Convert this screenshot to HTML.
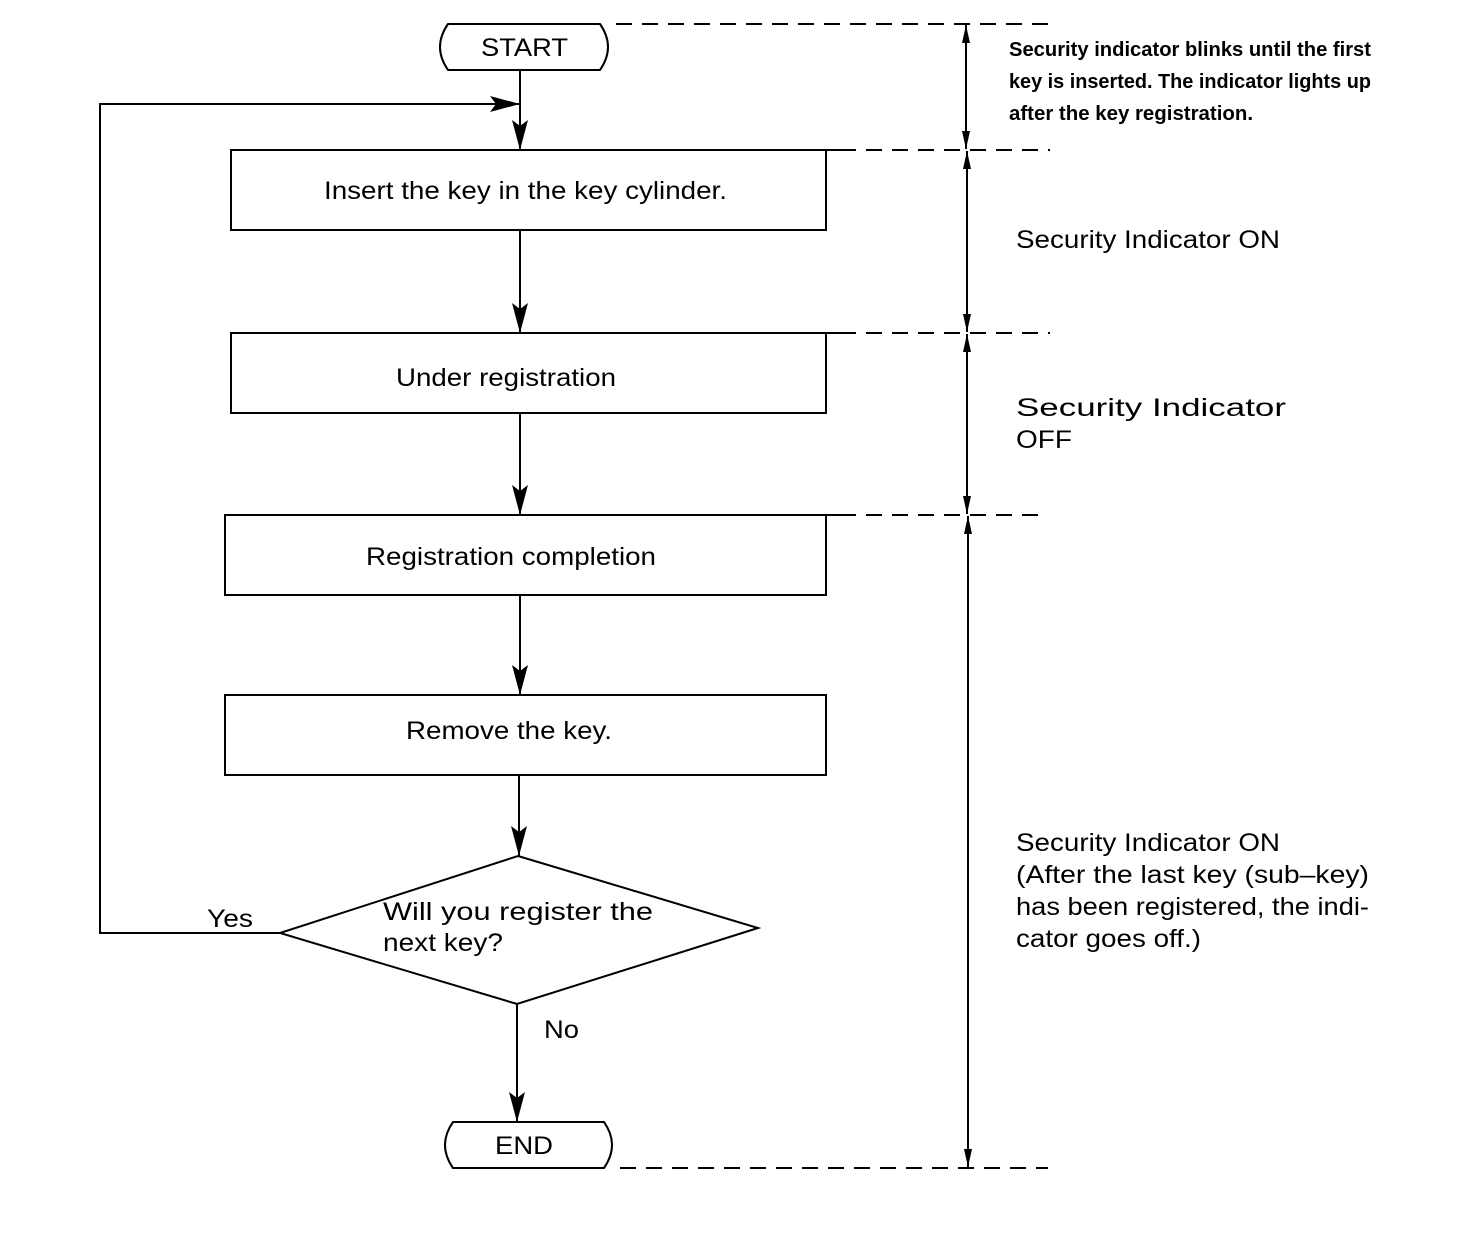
<!DOCTYPE html>
<html><head><meta charset="utf-8"><style>
html,body{margin:0;padding:0;background:#fff;}
svg{display:block;}
text{font-family:"Liberation Sans",Arial,sans-serif;fill:#000;}
</style></head><body>
<svg width="1472" height="1240" viewBox="0 0 1472 1240" xmlns="http://www.w3.org/2000/svg">
<defs>
<marker id="a" viewBox="0 0 10 10" refX="10" refY="5" markerWidth="8" markerHeight="12" markerUnits="userSpaceOnUse" orient="auto" preserveAspectRatio="none"><path d="M0,0 L10,5 L0,10 L3,5 Z" fill="#000"/></marker>
<marker id="big" viewBox="0 0 10 10" refX="10" refY="5" markerWidth="30" markerHeight="16" markerUnits="userSpaceOnUse" orient="auto" preserveAspectRatio="none"><path d="M0,0 L10,5 L0,10 L2,5 Z" fill="#000"/></marker>
<marker id="sm" viewBox="0 0 10 10" refX="10" refY="5" markerWidth="18" markerHeight="8" markerUnits="userSpaceOnUse" orient="auto" preserveAspectRatio="none"><path d="M0,0 L10,5 L0,10 Z" fill="#000"/></marker>
</defs>
<g stroke="#000" stroke-width="2" fill="none">
<!-- START -->
<path d="M448,24 L600,24 Q616,47 600,70 L448,70 Q432,47 448,24 Z"/>
<!-- END -->
<path d="M453,1122 L604,1122 Q620,1145 604,1168 L453,1168 Q437,1145 453,1122 Z"/>
<!-- boxes -->
<rect x="231" y="150" width="595" height="80"/>
<rect x="231" y="333" width="595" height="80"/>
<rect x="225" y="515" width="601" height="80"/>
<rect x="225" y="695" width="601" height="80"/>
<path d="M518,856 L758,928 L517,1004 L280,933 Z"/>
<!-- connectors -->
<line x1="520" y1="70" x2="520" y2="150" marker-end="url(#big)"/>
<line x1="520" y1="230" x2="520" y2="333" marker-end="url(#big)"/>
<line x1="520" y1="413" x2="520" y2="515" marker-end="url(#big)"/>
<line x1="520" y1="595" x2="520" y2="695" marker-end="url(#big)"/>
<line x1="519" y1="775" x2="519" y2="856" marker-end="url(#big)"/>
<line x1="517" y1="1004" x2="517" y2="1122" marker-end="url(#big)"/>
<path d="M280,933 L100,933 L100,104 L520,104" marker-end="url(#big)"/>
<!-- extension lines -->
<line x1="826" y1="150" x2="840" y2="150"/>
<line x1="826" y1="333" x2="840" y2="333"/>
<line x1="826" y1="515" x2="840" y2="515"/>
</g>
<g stroke="#000" stroke-width="2" stroke-dasharray="16,10" fill="none">
<line x1="616" y1="24" x2="1048" y2="24"/>
<line x1="840" y1="150" x2="1050" y2="150"/>
<line x1="840" y1="333" x2="1050" y2="333"/>
<line x1="840" y1="515" x2="1048" y2="515"/>
<line x1="620" y1="1168" x2="1048" y2="1168"/>
</g>
<g stroke="#000" stroke-width="2">
<line x1="966" y1="87" x2="966" y2="25" marker-end="url(#sm)"/>
<line x1="966" y1="87" x2="966" y2="149" marker-end="url(#sm)"/>
<line x1="967" y1="240" x2="967" y2="151" marker-end="url(#sm)"/>
<line x1="967" y1="240" x2="967" y2="332" marker-end="url(#sm)"/>
<line x1="967" y1="424" x2="967" y2="334" marker-end="url(#sm)"/>
<line x1="967" y1="424" x2="967" y2="514" marker-end="url(#sm)"/>
<line x1="968" y1="840" x2="968" y2="516" marker-end="url(#sm)"/>
<line x1="968" y1="840" x2="968" y2="1167" marker-end="url(#sm)"/>
</g>
<g font-size="25">
<text x="481" y="56" textLength="87" lengthAdjust="spacingAndGlyphs">START</text>
<text x="495" y="1154" textLength="58" lengthAdjust="spacingAndGlyphs">END</text>
<text x="324" y="199" textLength="403" lengthAdjust="spacingAndGlyphs">Insert the key in the key cylinder.</text>
<text x="396" y="386" textLength="220" lengthAdjust="spacingAndGlyphs">Under registration</text>
<text x="366" y="565" textLength="290" lengthAdjust="spacingAndGlyphs">Registration completion</text>
<text x="406" y="739" textLength="206" lengthAdjust="spacingAndGlyphs">Remove the key.</text>
<text x="383" y="920" textLength="270" lengthAdjust="spacingAndGlyphs">Will you register the</text>
<text x="383" y="951" textLength="120" lengthAdjust="spacingAndGlyphs">next key?</text>
<text x="207" y="927" textLength="46" lengthAdjust="spacingAndGlyphs">Yes</text>
<text x="544" y="1038" textLength="35" lengthAdjust="spacingAndGlyphs">No</text>
<text x="1016" y="248" textLength="264" lengthAdjust="spacingAndGlyphs">Security Indicator ON</text>
<text x="1016" y="416" textLength="270" lengthAdjust="spacingAndGlyphs">Security    Indicator</text>
<text x="1016" y="448" textLength="56" lengthAdjust="spacingAndGlyphs">OFF</text>
<text x="1016" y="851" textLength="264" lengthAdjust="spacingAndGlyphs">Security Indicator ON</text>
<text x="1016" y="883" textLength="353" lengthAdjust="spacingAndGlyphs">(After the last key (sub–key)</text>
<text x="1016" y="915" textLength="353" lengthAdjust="spacingAndGlyphs">has been registered, the indi-</text>
<text x="1016" y="947" textLength="185" lengthAdjust="spacingAndGlyphs">cator goes off.)</text>
</g>
<g font-size="20" font-weight="bold">
<text x="1009" y="56" textLength="362" lengthAdjust="spacingAndGlyphs">Security indicator blinks until the first</text>
<text x="1009" y="88" textLength="362" lengthAdjust="spacingAndGlyphs">key is inserted. The indicator lights up</text>
<text x="1009" y="120" textLength="244" lengthAdjust="spacingAndGlyphs">after the key registration.</text>
</g>
</svg>
</body></html>
